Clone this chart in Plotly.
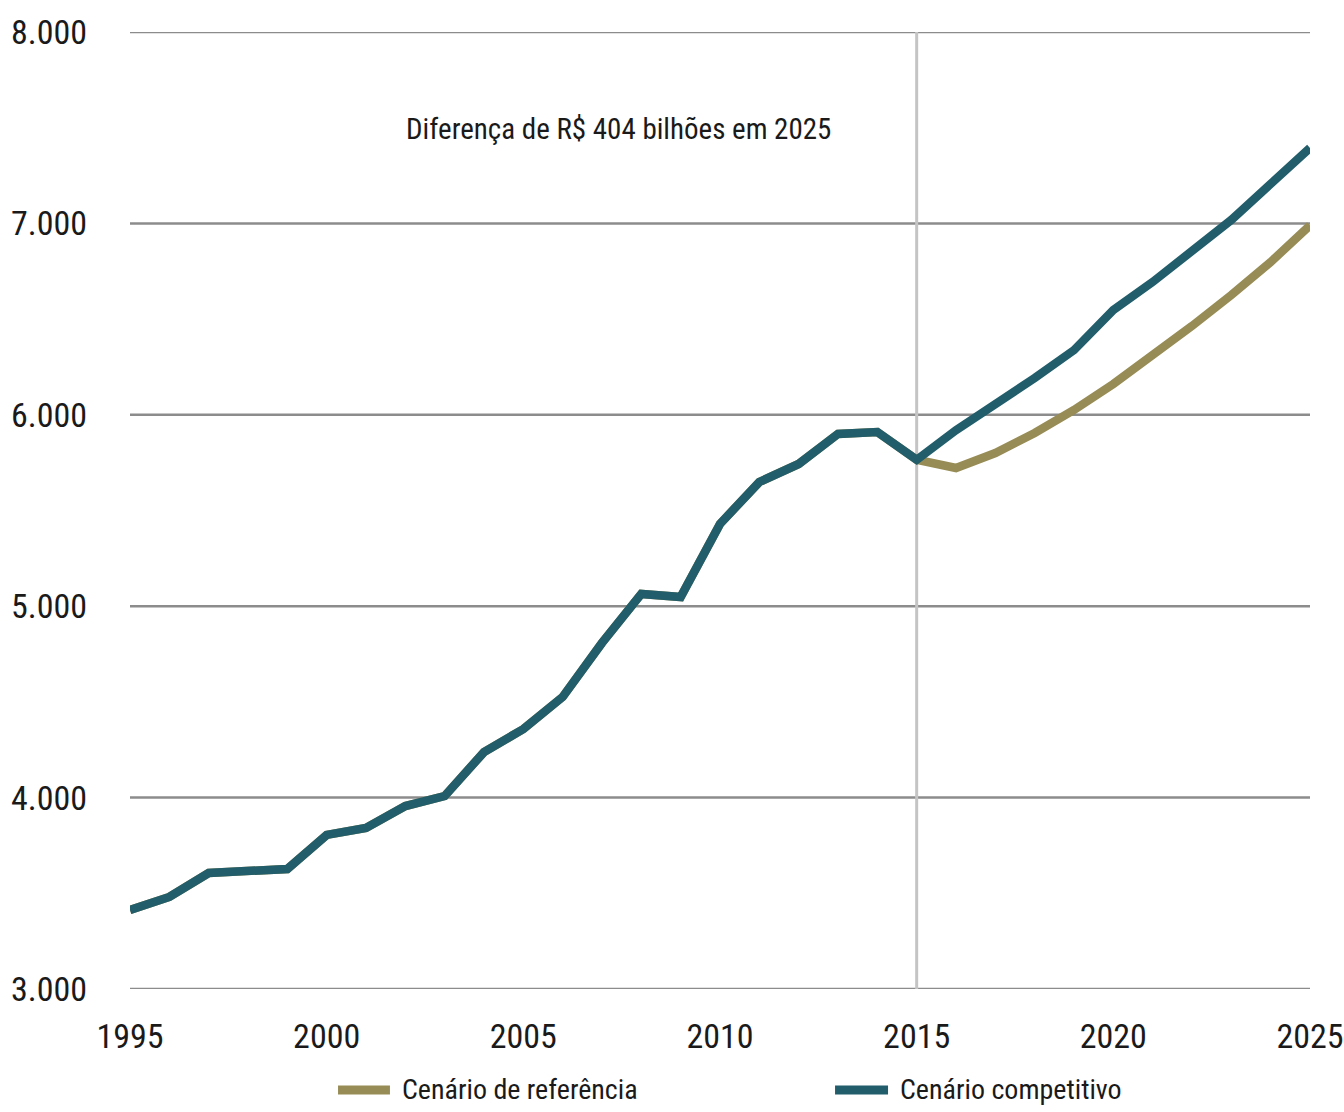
import plotly.graph_objects as go

# Annual series, 1995-2025 (R$ bilhões)
years = list(range(1995, 2026))

historico = [3413, 3481, 3606, 3611, 3627, 3805, 3841, 3956, 4008, 4238,
             4358, 4526, 4808, 5064, 5048, 5430, 5649, 5743, 5900, 5910,
             5765]

referencia_proj = [5722, 5800, 5905, 6025, 6161, 6307, 6464, 6626, 6798, 6990]
competitivo_proj = [5920, 6051, 6192, 6338, 6548, 6694, 6856, 7018, 7206, 7394]

cenario_referencia = historico + referencia_proj
cenario_competitivo = historico + competitivo_proj

y_ticks = [3000, 4000, 5000, 6000, 7000, 8000]
y_ticktext = ["3.000", "4.000", "5.000", "6.000", "7.000", "8.000"]
x_ticks = [1995, 2000, 2005, 2010, 2015, 2020, 2025]
x_ticktext = ["1995", "2000", "2005", "2010", "2015", "2020", "2025"]

ano_corte = 2015
nota = "Diferença de R$ 404 bilhões em 2025"
series_names = ["Cenário de referência", "Cenário competitivo"]

FONT = "Roboto Condensed, Liberation Sans, sans-serif"
OLIVE = "#978c55"
PETROL = "#215d6a"
TEXT = "#1a1a1a"

fig = go.Figure()

fig.add_trace(go.Scatter(
    x=years, y=cenario_referencia, mode="lines",
    name=series_names[0], showlegend=False,
    line=dict(color=OLIVE, width=8.5),
))
fig.add_trace(go.Scatter(
    x=years, y=cenario_competitivo, mode="lines",
    name=series_names[1], showlegend=False,
    line=dict(color=PETROL, width=8.5),
))

# horizontal grid lines
for v in y_ticks:
    fig.add_shape(type="line", xref="paper", yref="y",
                  x0=0, x1=1, y0=v, y1=v,
                  line=dict(color="#8c8c8c", width=2.5), layer="below")

# vertical marker at the start of the projection period
fig.add_shape(type="line", xref="x", yref="y",
              x0=ano_corte, x1=ano_corte, y0=y_ticks[0], y1=y_ticks[-1],
              line=dict(color="#c4c4c4", width=3), layer="below")

fig.add_annotation(text=nota, xref="paper", yref="paper",
                   x=0.414, y=0.918, showarrow=False,
                   font=dict(family=FONT, size=29, color=TEXT))

# legend below the plot: line swatch + label for each scenario
legend_y = -0.1055
for name, color, (sx0, sx1, tx) in zip(
        series_names, [OLIVE, PETROL],
        [(0.1763, 0.2203, 0.2288), (0.5975, 0.6424, 0.6508)]):
    fig.add_shape(type="line", xref="paper", yref="paper",
                  x0=sx0, x1=sx1, y0=legend_y, y1=legend_y,
                  line=dict(color=color, width=9))
    fig.add_annotation(text=name, xref="paper", yref="paper",
                       x=tx, y=legend_y, xanchor="left", yanchor="middle",
                       showarrow=False,
                       font=dict(family=FONT, size=28, color=TEXT))

fig.update_layout(
    width=1344, height=1112,
    margin=dict(l=130, r=34, t=32, b=123, autoexpand=False),
    paper_bgcolor="white", plot_bgcolor="white",
    font=dict(family=FONT, color=TEXT),
    showlegend=False,
)

fig.update_xaxes(range=[1995, 2025], tickvals=x_ticks, ticktext=x_ticktext,
                 showgrid=False, zeroline=False, showline=False,
                 automargin=False, ticks="", ticklabelstandoff=24,
                 tickfont=dict(family=FONT, size=34, color=TEXT))
fig.update_yaxes(range=[3000, 8000], tickvals=y_ticks, ticktext=y_ticktext,
                 showgrid=False, zeroline=False, showline=False,
                 automargin=False, ticks="", ticklabelstandoff=42,
                 tickfont=dict(family=FONT, size=34, color=TEXT))

fig.write_html("out.html")
